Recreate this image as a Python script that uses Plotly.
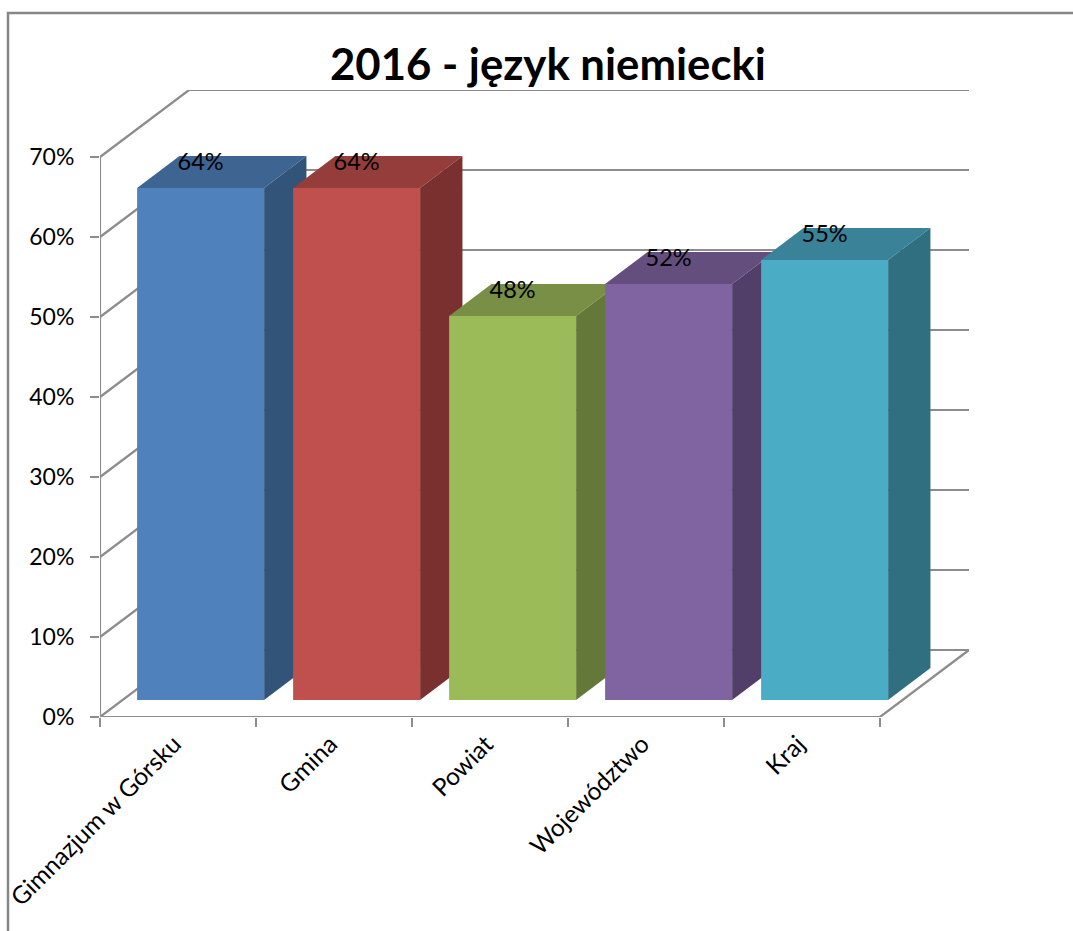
import plotly.graph_objects as go

# data
categories = ['Gimnazjum w Górsku', 'Gmina', 'Powiat', 'Województwo', 'Kraj']
values = [64, 64, 48, 52, 55]
value_labels = ['64%', '64%', '48%', '52%', '55%']
y_ticks = [0, 10, 20, 30, 40, 50, 60, 70]
y_tick_labels = ['0%', '10%', '20%', '30%', '40%', '50%', '60%', '70%']

# face colours of each bar
front_colors = ['#4F81BD', '#C0504D', '#9BBB59', '#8064A2', '#4BACC6']
top_colors = ['#3E6491', '#953D3B', '#788F45', '#634E7E', '#3A8298']
side_colors = ['#325479', '#7A302F', '#647839', '#523F69', '#306F80']

# oblique projection: how far the back wall is shifted from the front plane
WALL_DX = 0.5705  # categories
WALL_DY = 8.375   # percent
BAR_WIDTH = 0.814
BAR_FRONT = 0.254  # depth of the bar's front face, 0 = front, 1 = wall
BAR_BACK = 0.73
LABEL_LIFT = 3.0
TICK_LABEL_SHIFT = 0.025  # category labels sit a little left of the centre
GREY = '#8C8C8C'
FONT = 'Lato, Carlito, sans-serif'


def project(x, y, depth):
    return x + depth * WALL_DX, y + depth * WALL_DY


def face(points, color):
    xs, ys = zip(*[project(*p) for p in points])
    return go.Scatter(x=list(xs), y=list(ys), mode='lines', fill='toself',
                      fillcolor=color, line=dict(width=0), hoverinfo='skip')


# walls and floor
n = len(categories)
grid_x, grid_y = [], []
for tick in y_ticks:
    for p in [project(0, tick, 0), project(0, tick, 1), project(n, tick, 1)]:
        grid_x.append(p[0])
        grid_y.append(p[1])
    grid_x.append(None)
    grid_y.append(None)
for p in [project(n, 0, 1), project(n, 0, 0)]:
    grid_x.append(p[0])
    grid_y.append(p[1])

data = [go.Scatter(x=grid_x, y=grid_y, mode='lines',
                   line=dict(color=GREY, width=2.2), hoverinfo='skip')]

# the axis lines themselves
data.append(go.Scatter(x=[0, 0], y=[y_ticks[0], y_ticks[-1]], mode='lines',
                       line=dict(color=GREY, width=2.2), hoverinfo='skip'))
data.append(go.Scatter(x=[0, n], y=[0, 0], mode='lines', xaxis='x2',
                       line=dict(color=GREY, width=2.2), hoverinfo='skip'))

# bars, left to right so each one covers the side of the previous one
for i, value in enumerate(values):
    left = i + (1 - BAR_WIDTH) / 2
    right = left + BAR_WIDTH
    data.append(face([(left, value, BAR_FRONT), (right, value, BAR_FRONT),
                      (right, value, BAR_BACK), (left, value, BAR_BACK)], top_colors[i]))
    data.append(face([(right, 0, BAR_FRONT), (right, value, BAR_FRONT),
                      (right, value, BAR_BACK), (right, 0, BAR_BACK)], side_colors[i]))
    data.append(face([(left, 0, BAR_FRONT), (right, 0, BAR_FRONT),
                      (right, value, BAR_FRONT), (left, value, BAR_FRONT)], front_colors[i]))

# value labels
label_pos = [project(i + 0.5, v + LABEL_LIFT, BAR_FRONT) for i, v in enumerate(values)]
data.append(go.Scatter(x=[p[0] for p in label_pos], y=[p[1] for p in label_pos],
                       mode='text', text=value_labels,
                       textposition='middle center', hoverinfo='skip',
                       textfont=dict(family=FONT, size=23.5, color='black')))

x_range = [0, n + WALL_DX]
layout = go.Layout(
    width=1073, height=931,
    margin=dict(l=100, r=104, t=90, b=214, autoexpand=False),
    paper_bgcolor='white', plot_bgcolor='white',
    showlegend=False,
    title=dict(text='<b>2016 - język niemiecki</b>', x=0.5155, xref='paper', xanchor='center',
               y=1 - 65 / 931, yref='container', yanchor='middle',
               font=dict(family=FONT, size=43.7, color='black')),
    # tick marks on the category edges, labels on the centres
    xaxis=dict(range=x_range, tickvals=list(range(n + 1)), showticklabels=False,
               ticks='outside', ticklen=9, tickwidth=2, tickcolor=GREY,
               showgrid=False, zeroline=False, showline=False),
    xaxis2=dict(range=x_range, overlaying='x', side='bottom',
                tickvals=[i + 0.5 - TICK_LABEL_SHIFT for i in range(n)], ticktext=categories,
                tickangle=-45, ticks='', ticklabelstandoff=7,
                tickfont=dict(family=FONT, size=24.5, color='black'),
                showgrid=False, zeroline=False, showline=False, automargin=False),
    yaxis=dict(range=[0, y_ticks[-1] + WALL_DY], tickvals=y_ticks, ticktext=y_tick_labels,
               ticks='outside', ticklen=9, tickwidth=2, tickcolor=GREY, ticklabelstandoff=11,
               tickfont=dict(family=FONT, size=23, color='black'),
               showgrid=False, zeroline=False, showline=False, automargin=False),
    # chart frame, runs off the right and bottom of the picture
    shapes=[dict(type='rect', xref='paper', yref='paper',
                 x0=-92 / 869, x1=1.2, y0=-0.4, y1=1 + 77 / 627,
                 line=dict(color='#868686', width=2.5), layer='below')],
)

fig = go.Figure(data=data, layout=layout)
# drop the page's default body margin so the figure fills the window
fig.write_html('out.html', config=dict(displayModeBar=False),
               post_script="document.body.style.margin = '0';")
